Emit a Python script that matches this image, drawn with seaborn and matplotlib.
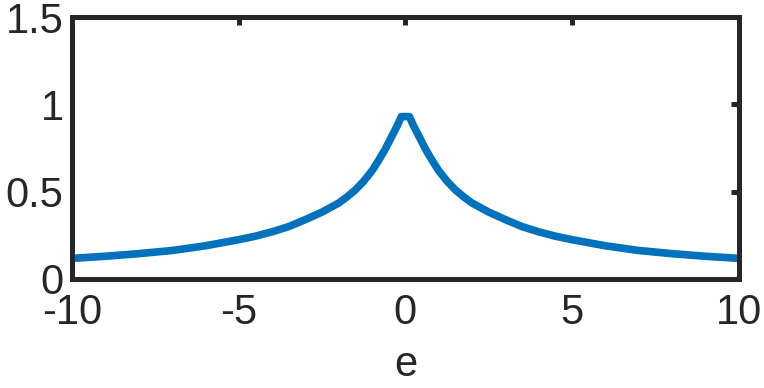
# %% imports

import numpy as np
import pandas as pd
import matplotlib.pyplot as plt
import seaborn as sns

# %% data

e_left = [-10, -9, -8, -7, -6, -5, -4.5, -4, -3.5, -3, -2.5, -2, -1.75, -1.5,
          -1.25, -1, -0.8, -0.6, -0.4, -0.25, -0.12]
f_left = [0.118, 0.13, 0.145, 0.163, 0.19, 0.225, 0.245, 0.27, 0.30, 0.34, 0.383, 0.435, 0.47, 0.51,
          0.56, 0.62, 0.68, 0.745, 0.82, 0.875, 0.93]

# curve is symmetric around e = 0
e_vals = e_left + [-v for v in e_left[::-1]]
f_vals = f_left + f_left[::-1]

x_ticks = [-10, -5, 0, 5, 10]
y_ticks = [0, 0.5, 1, 1.5]
y_tick_labels = ["0", "0.5", "1", "1.5"]

df = pd.DataFrame({"e": e_vals, "f": f_vals})

# %% config

sns.set_style("white")
plt.rcParams['font.family'] = ['Liberation Sans', 'DejaVu Sans']
plt.rcParams['axes.unicode_minus'] = False

dark = "#262626"
blue = "#0072BD"

# %% plot

fig = plt.figure(figsize=(7.64, 3.88), dpi=100)
ax = fig.add_axes([0.0942, 0.281, 0.8728, 0.675])

sns.lineplot(data=df, x="e", y="f", ax=ax, color=blue, linewidth=5.5, sort=False,
             solid_joinstyle="round", solid_capstyle="butt")

ax.set_xlim(-10, 10)
ax.set_ylim(0, 1.5)
ax.set_xticks(x_ticks)
ax.set_xticklabels([str(t) for t in x_ticks])
ax.set_yticks(y_ticks)
ax.set_yticklabels(y_tick_labels)
ax.set_xlabel("e", fontsize=30, color=dark, labelpad=9)
ax.set_ylabel("")

for s in ax.spines.values():
    s.set_visible(True)
    s.set_linewidth(3.6)
    s.set_color(dark)

ax.tick_params(axis="both", direction="in", length=6, width=3.6, color=dark,
               labelsize=30, labelcolor=dark, top=True, right=True)
ax.tick_params(axis="x", pad=10)
ax.tick_params(axis="y", pad=6)

plt.savefig("out.png", dpi=100)
